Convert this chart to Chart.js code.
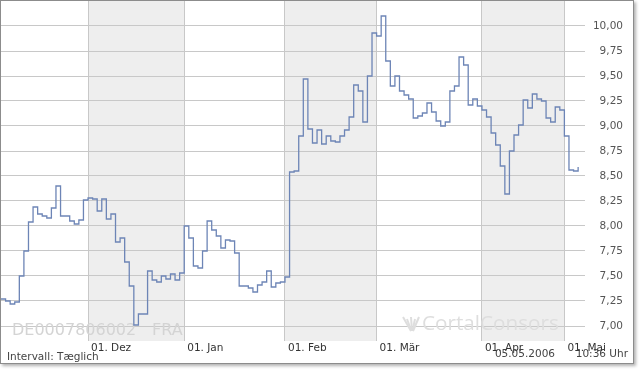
<!DOCTYPE html>
<html>
<head>
<meta charset="utf-8">
<script src="https://cdn.jsdelivr.net/npm/chart.js@4.4.1/dist/chart.umd.min.js"></script>
<style>
  html, body { margin: 0; padding: 0; background: #fff; }
  #frame {
    position: absolute; left: 0; top: 0;
    width: 632px; height: 362px;
    border: 1px solid #8c8c8c;
    box-shadow: 2px 2px 3px rgba(0, 0, 0, 0.3);
    background: #fff;
  }
  #frame canvas { display: block; }
</style>
</head>
<body>
<div id="frame"><canvas id="kursChart" width="632" height="362"></canvas></div>
<script>
// Kursverlauf DE0007806002 (FRA), Tageswerte Nov 2005 - Mai 2006
const monthStarts = [19, 40, 62, 82, 105, 123];
const monthLabels = ['01. Dez', '01. Jan', '01. Feb', '01. Mär', '01. Apr', '01. Mai'];
const shadedMonths = [[19, 40], [62, 82], [105, 123]];
const yTicks = [7.00, 7.25, 7.50, 7.75, 8.00, 8.25, 8.50, 8.75, 9.00, 9.25, 9.50, 9.75, 10.00];

const novPrices = [7.27, 7.25, 7.22, 7.24, 7.50, 7.75, 8.04, 8.19, 8.12, 8.10, 8.08, 8.18, 8.40, 8.10, 8.10, 8.05, 8.02, 8.06, 8.26];
const decPrices = [8.28, 8.27, 8.15, 8.27, 8.07, 8.12, 7.84, 7.88, 7.64, 7.40, 7.01, 7.12, 7.12, 7.55, 7.46, 7.44, 7.50, 7.47, 7.52, 7.46, 7.53];
const janPrices = [8.00, 7.88, 7.60, 7.58, 7.75, 8.05, 7.96, 7.90, 7.78, 7.86, 7.85, 7.73, 7.40, 7.40, 7.38, 7.34, 7.41, 7.44, 7.55, 7.39, 7.43, 7.44];
const febPrices = [7.49, 8.54, 8.55, 8.90, 9.47, 8.97, 8.83, 8.96, 8.82, 8.90, 8.85, 8.84, 8.90, 8.96, 9.09, 9.41, 9.35, 9.04, 9.50, 9.93];
const marPrices = [9.90, 10.10, 9.65, 9.40, 9.50, 9.35, 9.31, 9.27, 9.08, 9.10, 9.13, 9.23, 9.14, 9.05, 9.00, 9.04, 9.35, 9.40, 9.69, 9.61, 9.21, 9.27, 9.20];
const aprPrices = [9.16, 9.09, 8.93, 8.81, 8.60, 8.32, 8.75, 8.91, 9.01, 9.26, 9.18, 9.32, 9.27, 9.25, 9.08, 9.04, 9.19, 9.16];
const mayPrices = [8.90, 8.56, 8.55, 8.59];

const prices = [].concat(novPrices, decPrices, janPrices, febPrices, marPrices, aprPrices, mayPrices);

Chart.defaults.font.family = '"DejaVu Sans", Verdana, sans-serif';
Chart.defaults.font.size = 10.5;

// graue Monatsbaender, Wasserzeichen und Fusszeile
const kursDeko = {
  id: 'kursDeko',
  beforeDraw(chart) {
    const { ctx, chartArea: a, scales: { x } } = chart;
    ctx.save();
    ctx.fillStyle = '#eeeeee';
    shadedMonths.forEach(([s, e]) => {
      const x0 = Math.round(x.getPixelForValue(s));
      const x1 = Math.round(x.getPixelForValue(e));
      ctx.fillRect(x0, a.top, x1 - x0, a.bottom - a.top);
    });
    ctx.restore();
  },
  beforeDatasetsDraw(chart) {
    const ctx = chart.ctx;
    ctx.save();
    ctx.fillStyle = '#d4d4d4';
    ctx.textBaseline = 'alphabetic';
    ctx.font = '16px "DejaVu Sans"';
    ctx.fillText('DE0007806002', 11, 334);
    ctx.fillText('FRA', 151, 334);

    // CortalConsors Logo (stark vereinfacht)
    ctx.fillStyle = '#dedede';
    ctx.strokeStyle = '#dedede';
    ctx.lineWidth = 2;
    for (let i = 0; i < 5; i++) {
      ctx.beginPath();
      ctx.moveTo(410 + i * 0.5, 330);
      ctx.lineTo(402 + i * 4, 316 + (i % 2) * 2);
      ctx.stroke();
    }
    ctx.font = '19px "Open Sans"';
    let w = ctx.measureText('CortalConsors').width;
    const size = 19 * 137 / w;
    ctx.font = size.toFixed(1) + 'px "Open Sans"';
    ctx.fillText('CortalConsors', 421, 329);
    ctx.restore();
  },
  afterDraw(chart) {
    const ctx = chart.ctx;
    ctx.save();
    ctx.fillStyle = '#444';
    ctx.font = '10.5px "DejaVu Sans"';
    ctx.textBaseline = 'alphabetic';
    ctx.textAlign = 'left';
    ctx.fillText('Intervall: Tæglich', 6, 358.5);
    ctx.textAlign = 'right';
    ctx.fillText('05.05.2006', 554, 355.5);
    ctx.fillText('10:36 Uhr', 627, 355.5);
    ctx.restore();
  }
};

new Chart(document.getElementById('kursChart'), {
  type: 'line',
  data: {
    datasets: [{
      label: 'Kurs',
      data: prices.map((v, i) => ({ x: i, y: v })),
      borderColor: '#6d85b6',
      borderWidth: 1.3,
      stepped: true,
      pointRadius: 0,
      fill: false
    }]
  },
  options: {
    responsive: false,
    animation: false,
    layout: { padding: { left: 0, top: 0, right: 10, bottom: 0 } },
    plugins: {
      legend: { display: false },
      tooltip: { enabled: false }
    },
    scales: {
      x: {
        type: 'linear',
        min: 0,
        max: 127.5,
        afterBuildTicks: scale => { scale.ticks = monthStarts.map(v => ({ value: v })); },
        afterFit: scale => {
          scale.height = 22;
          scale.paddingLeft = 0;
          scale.paddingRight = 0;
        },
        border: { display: false },
        grid: { color: '#c8c8c8', drawTicks: false },
        ticks: {
          autoSkip: false,
          maxRotation: 0,
          align: 'start',
          labelOffset: 3,
          padding: 1,
          color: '#333',
          callback: (v, i) => monthLabels[i]
        }
      },
      y: {
        position: 'right',
        min: 6.85,
        max: 10.25,
        afterBuildTicks: scale => { scale.ticks = yTicks.map(v => ({ value: v })); },
        afterFit: scale => {
          scale.width = 38;
          scale.paddingTop = 0;
          scale.paddingBottom = 0;
        },
        border: { display: false },
        grid: { color: '#c8c8c8', drawTicks: false },
        ticks: {
          crossAlign: 'far',
          padding: 8,
          color: '#555',
          callback: v => v.toFixed(2).replace('.', ',')
        }
      }
    }
  },
  plugins: [kursDeko]
});
</script>
</body>
</html>
